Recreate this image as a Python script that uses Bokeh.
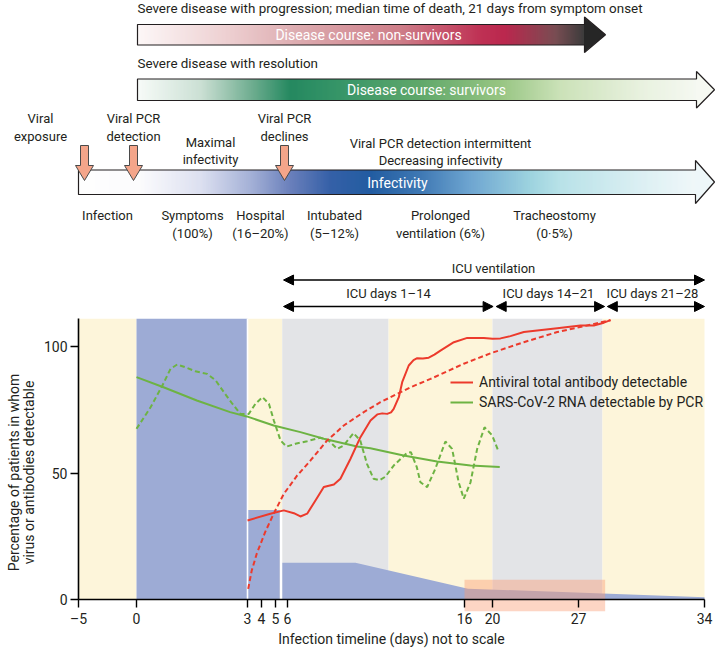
import numpy as np
from bokeh.plotting import figure
from bokeh.models import Range1d, FixedTicker, Arrow, NormalHead, Legend, LegendItem
from bokeh.core.properties import value
from bokeh.embed import file_html
from bokeh.resources import INLINE

FONT = "Roboto"
INK = "#231f20"

# ---------------- axis (not to scale) ----------------
TICK_DAYS = [-5, 0, 3, 4, 5, 6, 16, 20, 27, 34]
TICK_POS = [78, 136, 247, 261, 275, 287, 464, 492, 578, 704]
TICK_LABELS = ["–5", "0", "3", "4", "5", "6", "16", "20", "27", "34"]
Y_TICKS = [0, 50, 100]


def pos(d):
    return np.interp(d, TICK_DAYS, TICK_POS)


# page layout: chart value 0 sits at 599.3 px from the top, 2.533 px per percentage point
ZERO_PX = 599.3
PX_PER_UNIT = 2.533
W, H = 715, 649


def Y(py):
    return (ZERO_PX - np.asarray(py, dtype=float)) / PX_PER_UNIT


# ---------------- data (days, percentage) ----------------
PHASE_START = [-5, 0, 3, 5.56, 11.71, 20, 28.33]
PHASE_END = [0, 3, 5.56, 11.71, 20, 28.33, 34]
PHASE_KIND = ["ward", "peak", "ward", "icu", "ward", "icu", "ward"]
PHASE_TOP = 111

BLOCK_DAYS = [3, 5.36]
BLOCK_VALUE = 35.5

AREA_DAYS = [5.56, 9.84, 16.5, 34]
AREA_VALUES = [14.6, 14.6, 4.4, 1.0]

HIGHLIGHT_DAYS = [16, 28.48]
HIGHLIGHT_VALUES = [-4.5, 7.9]

AB_SOLID_DAYS = [3.0, 4.63, 5.69, 6.36, 6.73, 7.11, 7.58, 8.05, 8.62, 8.99, 9.56, 10.12,
                 10.69, 11.07, 11.35, 11.63, 11.85, 12.0, 12.29, 12.48, 12.85, 13.12, 13.33,
                 13.65, 13.98, 14.3, 14.64, 15.40, 16.39, 18.76, 20.0, 20.65, 21.46, 22.55,
                 25.27, 27.11, 27.85, 28.41, 28.78]
AB_SOLID_VALUES = [31.3, 34.0, 35.3, 34.2, 32.9, 34.0, 39.2, 44.5, 45.5, 47.8, 55.7, 64.2,
                   70.8, 73.2, 73.6, 73.4, 74.0, 75.4, 80.0, 85.9, 92.5, 94.6, 95.4,
                   95.3, 95.6, 96.8, 98.4, 101.7, 103.4, 103.4, 103.1, 103.2, 104.1, 105.7,
                   107.2, 108.3, 108.3, 109.4, 110.4]

AB_DASH_DAYS = [3.05, 3.3, 3.66, 4.26, 4.87, 5.69, 6.55, 7.3, 8.24, 9.18, 10.31, 11.25,
                12.2, 12.95, 14.08, 15.96, 19.71, 22.55, 25.27, 27.67, 28.78]
AB_DASH_VALUES = [4.3, 11.5, 18.2, 26.7, 34.0, 41.8, 49.1, 55.0, 62.9, 68.8, 74.1, 78.0,
                  81.3, 83.9, 87.2, 93.2, 97.3, 101.7, 105.7, 108.6, 110.4]

PCR_SMOOTH_DAYS = [0, 0.73, 1.63, 2.53, 2.98, 4.87, 6.73, 8.05, 9.93, 10.68, 12.56, 14.45,
                   16.86, 20.59]
PCR_SMOOTH_VALUES = [87.9, 83.9, 78.7, 74.1, 72.4, 68.8, 66.2, 63.6, 60.5, 59.8, 57.0, 54.6,
                     53.0, 52.4]

PCR_WAVE_DAYS = [0, 0.38, 0.7, 0.92, 1.1, 1.32, 1.59, 1.91, 2.14, 2.36, 2.59, 2.81, 3.09,
                 3.57, 4.07, 4.53, 4.88, 5.42, 5.92, 6.45, 7.11, 7.85, 8.32, 8.80, 9.17,
                 9.73, 10.11, 10.49, 10.86, 11.19, 11.53, 12.0, 12.75, 12.97, 13.3, 13.51,
                 13.89, 14.35, 14.92, 15.30, 15.67, 15.96, 16.86, 17.81, 18.86, 19.96, 20.51]
PCR_WAVE_VALUES = [67.5, 76.0, 84.6, 91.2, 92.9, 91.8, 90.2, 89.2, 86.6, 82.0, 77.4, 73.4,
                   73.4, 77.4, 80.0, 77.4, 70.8, 62.9, 60.5, 61.6, 62.6, 64.0, 62.9, 59.6,
                   60.9, 65.8, 62.9, 53.7, 47.8, 47.2, 48.6, 53.0, 58.0, 58.3, 52.5, 46.4,
                   44.5, 51.7, 62.5, 59.6, 46.4, 39.9, 46.4, 59.6, 68.1, 64.9, 58.3]

ICU_LABELS = ["ICU ventilation", "ICU days 1–14", "ICU days 14–21", "ICU days 21–28"]
ICU_START = [5.67, 5.67, 20.3, 28.6]
ICU_END = [34, 20.05, 28.45, 34]

STAGE_ROW1 = ["Infection", "Symptoms", "Hospital", "Intubated", "Prolonged", "Tracheostomy"]
STAGE_ROW2 = ["", "(100%)", "(16–20%)", "(5–12%)", "ventilation (6%)", "(0·5%)"]

Y_LABEL = ["Percentage of patients in whom", "virus or antibodies detectable"]
X_LABEL = "Infection timeline (days) not to scale"

COLORS = {"ward": "#fdf5da", "peak": "#9dabd5", "icu": "#e3e4e7"}
BLUE = "#9dabd5"
RED = "#ec3a2c"
GREEN = "#6db343"


def hex_to_rgb(c):
    return [int(c[1:3], 16), int(c[3:5], 16), int(c[5:7], 16)]


def interp_colors(stops, xs):
    sx = [s[0] for s in stops]
    rgb = np.array([hex_to_rgb(c) for _, c in stops], dtype=float)
    r = np.interp(xs, sx, rgb[:, 0])
    g = np.interp(xs, sx, rgb[:, 1])
    b = np.interp(xs, sx, rgb[:, 2])
    return ["#%02x%02x%02x" % (int(a), int(bb), int(cc)) for a, bb, cc in zip(r, g, b)]


p = figure(width=W, height=H, x_range=Range1d(0, W),
           y_range=Range1d(float(Y(H)), float(Y(0))),
           output_backend="svg", toolbar_location=None, min_border=0)
p.grid.visible = False
p.outline_line_color = None


def gradient_arrow(x0, xb, xt, y0, y1, hy0, hy1, stops, head_color):
    xs = np.arange(x0, xb, 1.0)
    cols = interp_colors(stops, xs + 0.5)
    p.quad(left=xs, right=xs + 1.3, top=float(Y(y0)), bottom=float(Y(y1)),
           fill_color=cols, line_color=None)
    ym = (hy0 + hy1) / 2
    p.patch([xb - 0.5, xt, xb - 0.5], Y([hy0, ym, hy1]), fill_color=head_color, line_color=None)
    p.patch([x0, xb, xb, xt, xb, xb, x0], Y([y0, y0, hy0, ym, hy1, y1, y1]),
            fill_alpha=0, line_color=INK, line_width=1.2)


def txt(x, py, s, size="13px", color=INK, align="center", angle=0.0):
    p.text(x=[x], y=[float(Y(py))], text=[s], text_font=value(FONT), text_font_size=size,
           text_color=color, text_align=align, text_baseline="middle", angle=angle)


# ---------------- bottom chart ----------------
p.quad(left=pos(PHASE_START), right=pos(PHASE_END), bottom=0, top=PHASE_TOP,
       fill_color=[COLORS[k] for k in PHASE_KIND], line_color=None)
p.quad(left=[pos(BLOCK_DAYS[0])], right=[pos(BLOCK_DAYS[1])], bottom=0, top=BLOCK_VALUE,
       fill_color=BLUE, line_color=None)
p.varea(x=pos(AREA_DAYS), y1=0, y2=AREA_VALUES, fill_color=BLUE)
p.segment(x0=[pos(3)], x1=[pos(3)], y0=0, y1=PHASE_TOP, line_color="white", line_width=1.6)
gap = (pos(BLOCK_DAYS[1]) + pos(AREA_DAYS[0])) / 2
p.segment(x0=[gap], x1=[gap], y0=0, y1=BLOCK_VALUE, line_color="white", line_width=2.2)
p.quad(left=[pos(HIGHLIGHT_DAYS[0])], right=[pos(HIGHLIGHT_DAYS[1])],
       bottom=HIGHLIGHT_VALUES[0], top=HIGHLIGHT_VALUES[1],
       fill_color="#fb9a72", fill_alpha=0.42, line_color=None)

p.line(pos(PCR_WAVE_DAYS), PCR_WAVE_VALUES, line_color=GREEN, line_width=2, line_dash="5 3")
r_pcr = p.line(pos(PCR_SMOOTH_DAYS), PCR_SMOOTH_VALUES, line_color=GREEN, line_width=2)
p.line(pos(AB_DASH_DAYS), AB_DASH_VALUES, line_color=RED, line_width=2, line_dash="5 3")
r_ab = p.line(pos(AB_SOLID_DAYS), AB_SOLID_VALUES, line_color=RED, line_width=2,
              line_join="round")

legend = Legend(items=[LegendItem(label="Antiviral total antibody detectable", renderers=[r_ab]),
                       LegendItem(label="SARS-CoV-2 RNA detectable by PCR", renderers=[r_pcr])],
                location=(450, 237), background_fill_alpha=0, border_line_alpha=0,
                padding=0, margin=0, spacing=0, glyph_width=23, glyph_height=20,
                label_height=20, label_standoff=6, label_text_font=FONT,
                label_text_font_size="14px", label_text_color=INK)
p.add_layout(legend)

for ax in [p.xaxis[0], p.yaxis[0]]:
    ax.axis_line_width = 1.6
    ax.axis_line_color = "black"
    ax.major_tick_line_color = "black"
    ax.major_tick_line_width = 1.4
    ax.major_tick_out = 8
    ax.major_tick_in = 0
    ax.minor_tick_line_color = None
    ax.major_label_text_font = FONT
    ax.major_label_text_font_size = "14px"
    ax.major_label_text_color = INK
    ax.axis_label_text_font = FONT
    ax.axis_label_text_font_size = "14px"
    ax.axis_label_text_font_style = "normal"
    ax.axis_label_text_color = INK

xa = p.xaxis[0]
xa.fixed_location = 0
xa.bounds = (TICK_POS[0], TICK_POS[-1])
xa.ticker = FixedTicker(ticks=TICK_POS)
xa.major_label_overrides = {tp: lab for tp, lab in zip(TICK_POS, TICK_LABELS)}
xa.axis_label = X_LABEL
xa.major_label_standoff = 3
xa.axis_label_standoff = 1

ya = p.yaxis[0]
ya.fixed_location = TICK_POS[0]
ya.bounds = (0, PHASE_TOP)
ya.ticker = FixedTicker(ticks=Y_TICKS)
ya.major_label_standoff = 3

txt(13, 472, Y_LABEL[0], size="14px", angle=np.pi / 2)
txt(28, 472, Y_LABEL[1], size="14px", angle=np.pi / 2)

# ---------------- top infographic ----------------
txt(137, 8, "Severe disease with progression; median time of death, 21 days from symptom onset",
    size="13.4px", align="left")
gradient_arrow(137, 584, 605, 24, 44.5, 16.5, 52,
               [(137, "#fdf7f7"), (230, "#ebc9cb"), (300, "#d9a1a6"), (400, "#c9707c"),
                (480, "#b81b42"), (505, "#b3103a"), (555, "#6a3a40"), (584, "#262626")],
               "#262626")
txt(368, 34, "Disease course: non-survivors", size="14px", color="white")

txt(137, 63, "Severe disease with resolution", size="13.4px", align="left")
gradient_arrow(137, 696, 714, 78.5, 100, 71, 107.5,
               [(137, "#f7fbf8"), (200, "#c6ddd0"), (250, "#62a686"), (290, "#0d7c4f"),
                (340, "#218a58"), (420, "#4f9f5b"), (500, "#8cbf75"), (560, "#c6dfb1"),
                (640, "#e6f0dc"), (696, "#f4f8f0")],
               "#f6f9f2")
txt(426, 89, "Disease course: survivors", size="14px", color="white")

gradient_arrow(78, 695, 714, 169.5, 194, 160, 203,
               [(78, "#ffffff"), (140, "#fbfbfd"), (200, "#d9ddef"), (250, "#9ba9d3"),
                (290, "#5a72b4"), (330, "#1f4f9e"), (370, "#0a4b97"), (420, "#2a6aac"),
                (470, "#5f9ccc"), (530, "#93cfdc"), (560, "#b1dfe6"), (640, "#d8eef2"),
                (695, "#eef7f9")],
               "#eef7f9")
txt(397, 182, "Infectivity", size="14px", color="white")

for axp in [84, 133, 284]:
    p.patch([axp - 4, axp + 4, axp + 4, axp + 9, axp, axp - 9, axp - 4],
            Y([145, 145, 165, 165, 180, 165, 165]),
            fill_color="#f4a58a", line_color="#4a4a4a", line_width=1)

txt(40, 118, "Viral")
txt(40, 136, "exposure")
txt(133, 118, "Viral PCR")
txt(133, 136, "detection")
txt(210, 142, "Maximal")
txt(210, 159, "infectivity")
txt(284, 118, "Viral PCR")
txt(284, 136, "declines")
txt(440, 143, "Viral PCR detection intermittent")
txt(440, 160, "Decreasing infectivity")

STAGE_X = [107, 192, 260, 334, 440, 554]
for sx, a, b in zip(STAGE_X, STAGE_ROW1, STAGE_ROW2):
    txt(sx, 215, a)
    if b:
        txt(sx, 233, b)

ICU_Y = [279.5, 306, 306, 306]
ICU_TY = [268, 293, 293, 293]
ICU_TX = [493, 388, 548, 652]
for s, d0, d1, yy, ty, tx in zip(ICU_LABELS, ICU_START, ICU_END, ICU_Y, ICU_TY, ICU_TX):
    x0, x1 = float(pos(d0)), float(pos(d1))
    yv = float(Y(yy))
    p.add_layout(Arrow(x_start=x0, x_end=x1, y_start=yv, y_end=yv, line_width=1.6,
                       line_color="black",
                       start=NormalHead(size=10, fill_color="black", line_color="black"),
                       end=NormalHead(size=10, fill_color="black", line_color="black")))
    txt(tx, ty, s)

open("out.html", "w").write(file_html(p, INLINE))
